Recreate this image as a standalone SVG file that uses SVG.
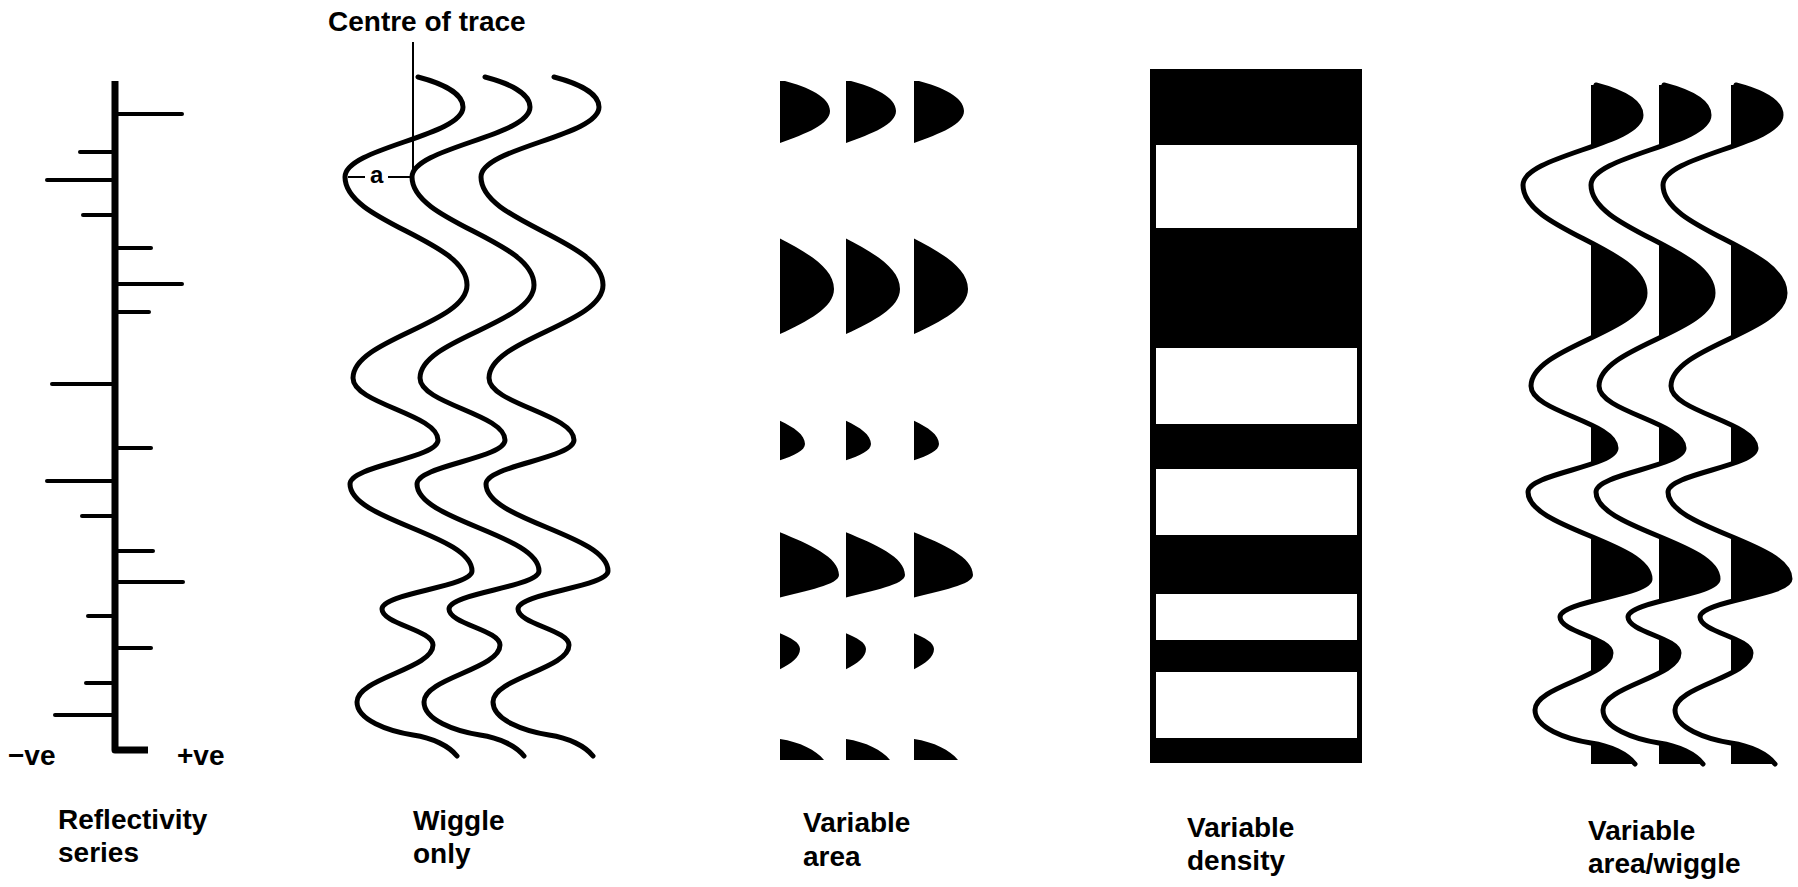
<svg xmlns="http://www.w3.org/2000/svg" width="1798" height="887" viewBox="0 0 1798 887">
<style>
  text { font-family: "Liberation Sans", Arial, sans-serif; font-weight: bold; font-size: 28px; fill: #000; }
  .small { font-size: 24px; }
  .axis { stroke: #000; stroke-width: 7; fill: none; stroke-linejoin: round; }
  .spike { stroke: #000; stroke-width: 4; stroke-linecap: round; fill: none; }
  .wig { fill: none; stroke: #000; stroke-width: 5; stroke-linecap: round; stroke-linejoin: round; }
  .lobe { fill: #000; stroke: none; }
  .thin { stroke: #000; stroke-width: 2; fill: none; }
</style>
<defs>
  <!-- keeps only the part of a trace right of its zero line -->
  <clipPath id="positive"><rect x="0" y="0" width="200" height="887"/></clipPath>
  <!-- one seismic trace, zero line at x=0 -->
  <path id="trace" d="M5,77 C28,83 50,93 50,107 C50,136.4 -68,147.6 -68,177 C-68,222.4 54,239.6 54,285 C54,324 -60,339 -60,378 C-60,404 25,414 25,440 C25,458.5 -63,465.5 -63,484 C-63,520.5 59,534.5 59,571 C59,587 -31,593 -31,609 C-31,624 20,630 20,645 C20,669 -56,678 -56,702 C-56,720 -25,731 0,735 C20,738 36,746 44,756"/>
  <!-- positive lobes of the same trace, filled -->
  <path id="lobes" fill-rule="evenodd" clip-path="url(#positive)" d="M5,77 C28,83 50,93 50,107 C50,136.4 -68,147.6 -68,177 C-68,222.4 54,239.6 54,285 C54,324 -60,339 -60,378 C-60,404 25,414 25,440 C25,458.5 -63,465.5 -63,484 C-63,520.5 59,534.5 59,571 C59,587 -31,593 -31,609 C-31,624 20,630 20,645 C20,669 -56,678 -56,702 C-56,720 -25,731 0,735 C20,738 36,746 44,756 L0,756 L0,77 Z"/>
</defs>

<rect x="0" y="0" width="1798" height="887" fill="#fff"/>

<!-- Reflectivity series -->
<g id="reflectivity">
  <path class="axis" d="M115,81 V750 H148"/>
  <g class="spike">
    <line x1="115" y1="114" x2="182" y2="114"/>
    <line x1="115" y1="152" x2="80" y2="152"/>
    <line x1="115" y1="180" x2="47" y2="180"/>
    <line x1="115" y1="215" x2="83" y2="215"/>
    <line x1="115" y1="248" x2="151" y2="248"/>
    <line x1="115" y1="284" x2="182" y2="284"/>
    <line x1="115" y1="312" x2="149" y2="312"/>
    <line x1="115" y1="384" x2="52" y2="384"/>
    <line x1="115" y1="448" x2="151" y2="448"/>
    <line x1="115" y1="481" x2="47" y2="481"/>
    <line x1="115" y1="516" x2="82" y2="516"/>
    <line x1="115" y1="551" x2="153" y2="551"/>
    <line x1="115" y1="582" x2="183" y2="582"/>
    <line x1="115" y1="616" x2="88" y2="616"/>
    <line x1="115" y1="648" x2="151" y2="648"/>
    <line x1="115" y1="683" x2="86" y2="683"/>
    <line x1="115" y1="715" x2="55" y2="715"/>
  </g>
  <text x="8" y="765">−ve</text>
  <text x="177" y="765">+ve</text>
  <text x="58" y="829">Reflectivity</text>
  <text x="58" y="862">series</text>
</g>

<!-- Wiggle only -->
<g id="wiggle">
  <use href="#trace" class="wig" transform="translate(413,0)"/>
  <use href="#trace" class="wig" transform="translate(480,0)"/>
  <use href="#trace" class="wig" transform="translate(549,0)"/>
  <text x="328" y="31">Centre of trace</text>
  <text class="small" x="370" y="183">a</text>
  <text x="413" y="830">Wiggle</text>
  <text x="413" y="863">only</text>
</g>

<!-- leader lines: centre of trace and amplitude a -->
<g id="connectors">
  <line class="thin" x1="413" y1="42" x2="413" y2="177"/>
  <line class="thin" x1="348" y1="177" x2="365" y2="177"/>
  <line class="thin" x1="388" y1="177" x2="411" y2="177"/>
</g>

<!-- Variable area -->
<g id="variable-area">
  <use href="#lobes" class="lobe" transform="translate(780,4)"/>
  <use href="#lobes" class="lobe" transform="translate(846,4)"/>
  <use href="#lobes" class="lobe" transform="translate(914,4)"/>
  <text x="803" y="832">Variable</text>
  <text x="803" y="866">area</text>
</g>

<!-- Variable density -->
<g id="variable-density">
  <rect x="1150" y="69" width="212" height="694" fill="#000"/>
  <g fill="#fff">
    <rect x="1156" y="145" width="201" height="83"/>
    <rect x="1156" y="348" width="201" height="76"/>
    <rect x="1156" y="469" width="201" height="66"/>
    <rect x="1156" y="594" width="201" height="46"/>
    <rect x="1156" y="672" width="201" height="66"/>
  </g>
  <text x="1187" y="837">Variable</text>
  <text x="1187" y="870">density</text>
</g>

<!-- Variable area / wiggle -->
<g id="variable-area-wiggle">
  <use href="#lobes" class="lobe" transform="translate(1591,8)"/>
  <use href="#lobes" class="lobe" transform="translate(1659,8)"/>
  <use href="#lobes" class="lobe" transform="translate(1731,8)"/>
  <use href="#trace" class="wig" transform="translate(1591,8)"/>
  <use href="#trace" class="wig" transform="translate(1659,8)"/>
  <use href="#trace" class="wig" transform="translate(1731,8)"/>
  <text x="1588" y="840">Variable</text>
  <text x="1588" y="873">area/wiggle</text>
</g>
</svg>
